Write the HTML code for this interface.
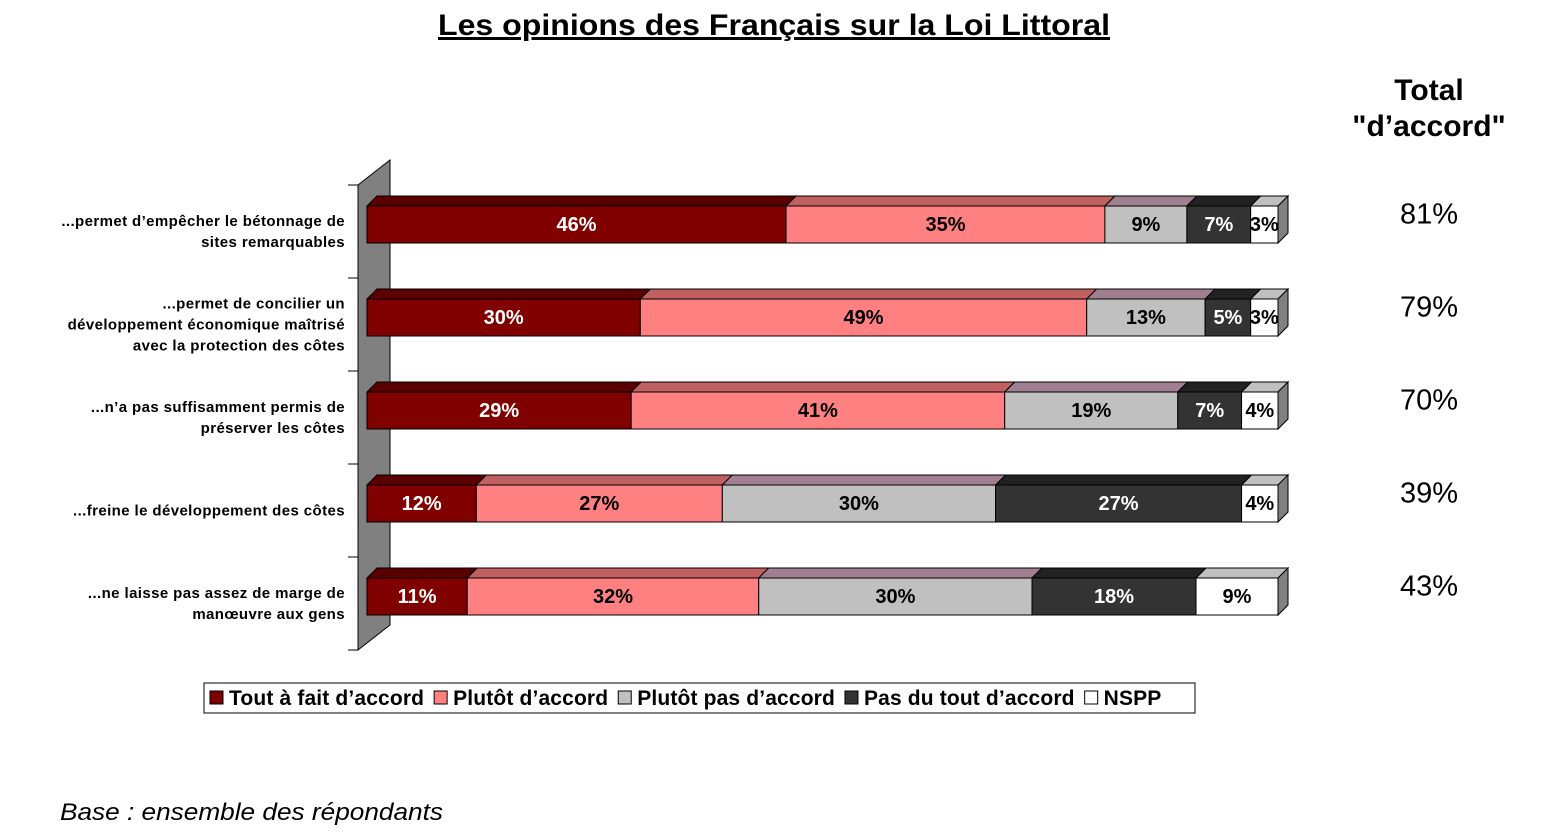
<!DOCTYPE html>
<html><head><meta charset="utf-8"><style>
body{margin:0;background:#fff;width:1556px;height:833px;overflow:hidden;font-family:"Liberation Sans",sans-serif}
</style></head><body>
<svg id="chart" width="1556" height="833" xmlns="http://www.w3.org/2000/svg">
<text x="438" y="35" textLength="672" lengthAdjust="spacingAndGlyphs" font-size="30" font-weight="bold" text-decoration="underline" fill="#000">Les opinions des Français sur la Loi Littoral</text>
<text x="1429" y="100" text-anchor="middle" font-size="30" font-weight="bold">Total</text>
<text x="1429" y="136" text-anchor="middle" font-size="30" font-weight="bold">"d’accord"</text>
<polygon points="358,185 390,160 390,625 358,650" fill="#808080" stroke="#000" stroke-width="1"/>
<g id="bars"></g>
<g>
<rect x="204" y="683" width="991" height="30" fill="#fff" stroke="#000"/>
</g>
<text x="60" y="820" textLength="383" lengthAdjust="spacingAndGlyphs" font-size="24" font-style="italic" fill="#000">Base : ensemble des répondants</text>
</svg>
<script>
const categories=[["...permet d’empêcher le bétonnage de","sites remarquables"],["...permet de concilier un","développement économique maîtrisé","avec la protection des côtes"],["...n’a pas suffisamment permis de","préserver les côtes"],["...freine le développement des côtes"],["...ne laisse pas assez de marge de","manœuvre aux gens"]];
const toutAFait=[46,30,29,12,11];
const plutot=[35,49,41,27,32];
const plutotPas=[9,13,19,30,30];
const pasDuTout=[7,5,7,27,18];
const nspp=[3,3,4,4,9];
const totals=["81%","79%","70%","39%","43%"];
const seriesNames=["Tout à fait d’accord","Plutôt d’accord","Plutôt pas d’accord","Pas du tout d’accord","NSPP"];
const series=[toutAFait,plutot,plutotPas,pasDuTout,nspp];
const frontColors=["#800000","#ff8080","#c0c0c0","#333333","#ffffff"];
const topColors=["#5a0000","#c06060","#a08090","#222222","#c0c0c0"];
const txtColors=["#fff","#000","#000","#fff","#000"];
const NS="http://www.w3.org/2000/svg";
const g=document.getElementById('bars');
const svg=document.getElementById('chart');
const x0=367,pxPer=9.11,barH=37,dx=10,dy=10;
const rowY=v=>206+v*93;
const xs=v=>x0+v*pxPer;
function mk(tag,attrs,parent){const e=document.createElementNS(NS,tag);for(const k in attrs)e.setAttribute(k,attrs[k]);(parent||g).appendChild(e);return e;}
const ax=mk('line',{x1:358,y1:185,x2:358,y2:650,stroke:'#000'});


for(let i=0;i<=categories.length;i++){const t=mk('line',{x1:348,x2:358,y1:185+i*93,y2:185+i*93,stroke:'#000'});

}
categories.forEach((lines,r)=>{
  const y=rowY(r);let cum=0;
  const cy=y+barH/2;
  lines.forEach((l,j)=>{const t=mk('text',{x:345,y:cy+12+(j-(lines.length-1)/2)*21,'text-anchor':'end','font-size':15,'font-weight':'bold','letter-spacing':'0.4',fill:'#000'});t.textContent=l;
  
  });
  series.forEach((s,k)=>{
    const v=s[r],xa=xs(cum),xb=xs(cum+v);cum+=v;
    const tp=mk('polygon',{points:`${xa},${y} ${xa+dx},${y-dy} ${xb+dx},${y-dy} ${xb},${y}`,fill:topColors[k],stroke:'#000','stroke-width':1});
    
    
    const b=mk('rect',{x:xa,y:y,width:xb-xa,height:barH,fill:frontColors[k],stroke:'#000','stroke-width':1});
    
    
    const t=mk('text',{x:(xa+xb)/2,y:y+25,'text-anchor':'middle','font-size':20,'font-weight':'bold',fill:txtColors[k]});
    t.textContent=v+'%';
    
    
  });
  const xe=xs(cum);
  const sd=mk('polygon',{points:`${xe},${y} ${xe+dx},${y-dy} ${xe+dx},${y+barH-dy} ${xe},${y+barH}`,fill:'#808080',stroke:'#000','stroke-width':1});
  
  
  const tt=mk('text',{x:1429,y:cy-1,'text-anchor':'middle','font-size':29,fill:'#000'});
  tt.textContent=totals[r];
  
  
});
let lx=210;
seriesNames.forEach((n,k)=>{
  const r=mk('rect',{x:lx,y:691,width:13,height:13,fill:frontColors[k],stroke:'#000'},svg);
  
  
  const t=mk('text',{x:lx+19,y:705,'font-size':21,'font-weight':'bold','letter-spacing':'0.15',fill:'#000'},svg);
  t.textContent=n;
  
  
  lx+=19+t.getComputedTextLength()+10;
});
</script>
</body></html>
